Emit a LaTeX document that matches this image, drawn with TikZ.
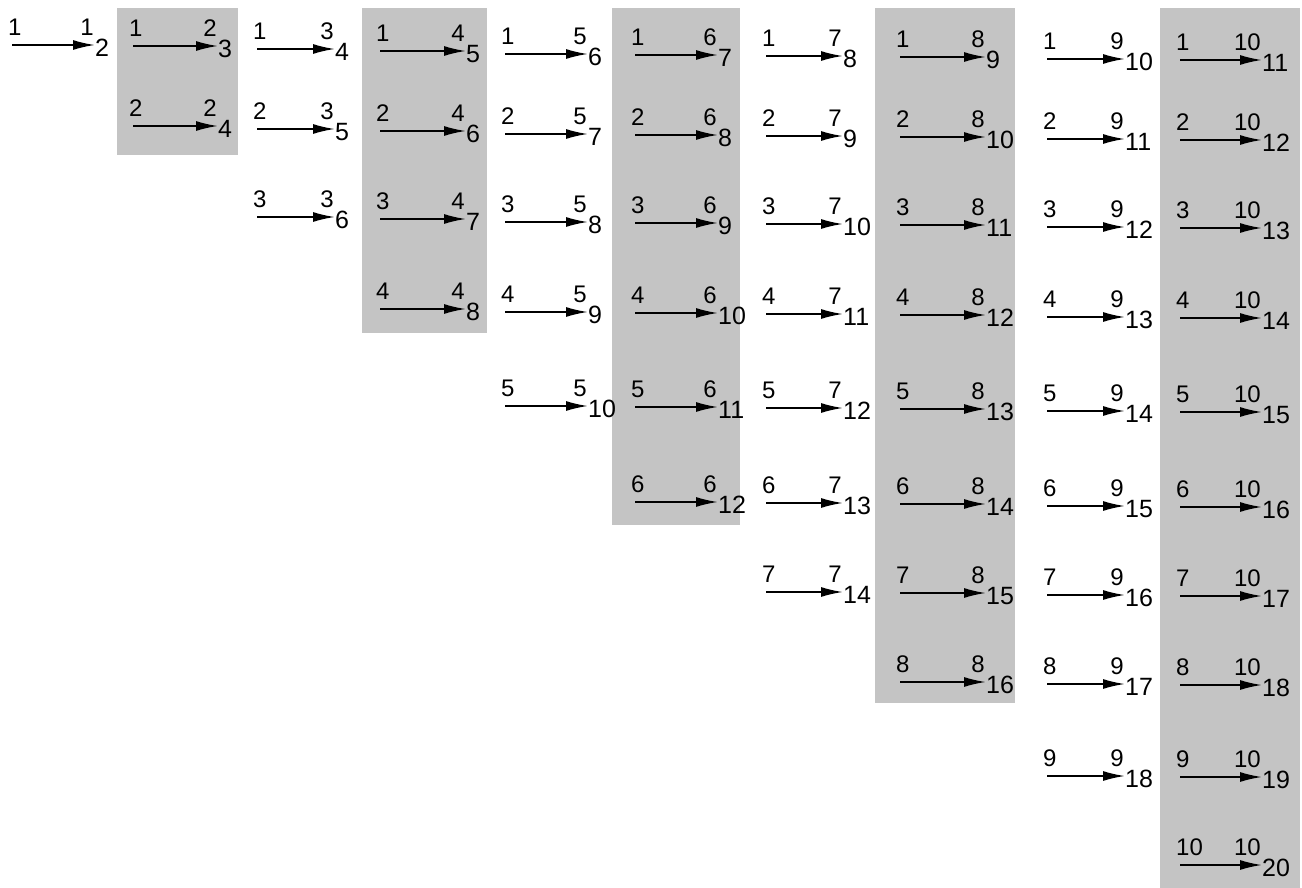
\documentclass[tikz,border=0pt]{standalone}
\usepackage{fontspec}
\setmainfont{Liberation Sans}
\usetikzlibrary{arrows.meta,calc}
\begin{document}
\begin{tikzpicture}[x=1pt,y=-1pt,
  shadebox/.style={fill=black!23,draw=none},
  arr/.style={line width=1.8pt,-{Latex[length=22pt,width=10pt]}},
  lbl/.style={inner sep=0pt,font=\fontsize{24}{26}\selectfont},
  sumlbl/.style={inner sep=0pt,font=\fontsize{25}{27}\selectfont}]
\useasboundingbox (0,0) rectangle (1302,888);
\fill[white] (0,0) rectangle (1302,888);
% shaded columns
\fill[shadebox] (117,8) rectangle (238,155);
\fill[shadebox] (362,8) rectangle (487,333);
\fill[shadebox] (612,8) rectangle (740,525);
\fill[shadebox] (875,8) rectangle (1015,703);
\fill[shadebox] (1160,8) rectangle (1300,888);
\foreach \j/\xa/\xb/\yt in {1/12/95/45, 2/133/218/46, 3/257/335/49, 4/380/466/51,
   5/505/588/54, 6/635/718/55, 7/766/843/56, 8/900/986/57, 9/1047/1125/59, 10/1180/1262/60} {
  \foreach \i in {1,...,\j} {
    \pgfmathsetmacro{\dy}{{0,80,168,258,352,447,536,625,717,805}[\i-1]}
    \pgfmathtruncatemacro{\s}{\i+\j}
    \coordinate (s\j-\i) at (\xa,\yt+\dy);
    \coordinate (e\j-\i) at (\xb,\yt+\dy);
    \draw[arr] (s\j-\i) -- (e\j-\i);
    \node[lbl,anchor=south west] (l\j-\i) at ($(s\j-\i)+(-4,-9)$) {\i};
    \node[lbl,anchor=south east] (t\j-\i) at ($(e\j-\i)+(-1,-9)$) {\j};
    \node[sumlbl,anchor=west] (r\j-\i) at ($(e\j-\i)+(0,3)$) {\s};
  }
}
\end{tikzpicture}
\end{document}
